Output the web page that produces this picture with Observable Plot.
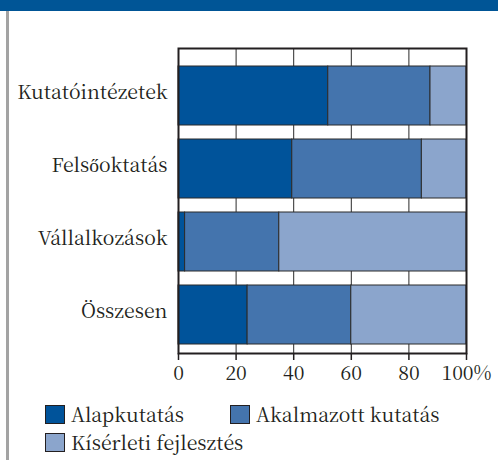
<!DOCTYPE html>
<html><head><meta charset="utf-8">
<script src="https://cdn.jsdelivr.net/npm/d3@7"></script>
<script src="https://cdn.jsdelivr.net/npm/@observablehq/plot@0.6"></script>
<style>
body{margin:0;background:#fff;width:498px;height:460px;overflow:hidden;position:relative;font-family:'Noto Serif CJK SC','Liberation Serif',serif;}
#band{position:absolute;left:0;top:0;width:498px;height:11px;background:#005596;z-index:2;}
#rule{position:absolute;left:6px;top:11px;width:3px;height:449px;background:#a3a3a3;z-index:2;}
#chart{position:absolute;left:0;top:0;}
#legend{position:absolute;left:45px;top:400px;display:grid;grid-template-columns:185px 230px;row-gap:0;}
.item{display:flex;align-items:center;height:28px;font-size:19.5px;color:#231f20;white-space:nowrap;}
.sw{width:18px;height:17px;border:1.5px solid #231f20;margin-right:6px;flex:none;}
</style>
</head><body>
<div id="band"></div>
<div id="rule"></div>
<div id="chart"></div>
<div id="legend"></div>
<script>
const categories = ["Kutatóintézetek", "Felsőoktatás", "Vállalkozások", "Összesen"];
const series = ["Alapkutatás", "Akalmazott kutatás", "Kísérleti fejlesztés"];
const alapkutatas = [52, 39.5, 2.3, 24];
const alkalmazott = [35.5, 45, 32.7, 36];
const kiserleti = [12.5, 15.5, 65, 40];
const colors = ["#00539a", "#4474ad", "#8ba5cc"];
const xTicks = [0, 20, 40, 60, 80, 100];
const FONT = "'Noto Serif CJK SC', 'Liberation Serif', serif";

const values = [alapkutatas, alkalmazott, kiserleti];
const data = [];
categories.forEach((c, i) => series.forEach((s, j) => data.push({cat: c, series: s, value: values[j][i]})));

const chart = Plot.plot({
  width: 498,
  height: 390,
  marginTop: 48,
  marginBottom: 37,
  marginLeft: 178,
  marginRight: 32,
  style: {fontFamily: FONT, fontSize: "19.5px", color: "#231f20", background: "transparent"},
  x: {domain: [0, 100], label: null},
  y: {domain: categories, range: [65, 345], paddingInner: 0.196, paddingOuter: 0, label: null},
  color: {domain: series, range: colors},
  marks: [
    Plot.gridX({ticks: [20, 40, 60, 80], stroke: "#2a2a2a", strokeOpacity: 1, strokeWidth: 1}),
    Plot.barX(data, Plot.stackX({x: "value", y: "cat", fill: "series", stroke: "#2a2a2a", strokeWidth: 1, order: series})),
    Plot.frame({stroke: "#231f20", strokeWidth: 2}),
    Plot.axisX({ticks: xTicks, tickSize: 7, tickPadding: 6, tickFormat: d => d === 100 ? "100%" : String(d), fontSize: 19.5, strokeWidth: 1.5}),
    Plot.axisY({tickSize: 0, tickPadding: 11, fontSize: 19.5, dy: -3})
  ]
});
chart.querySelectorAll("text").forEach(t => t.style.fontFamily = FONT);
document.getElementById("chart").appendChild(chart);

const legend = document.getElementById("legend");
series.forEach((s, j) => {
  const item = document.createElement("div");
  item.className = "item";
  item.style.fontFamily = FONT;
  const sw = document.createElement("span");
  sw.className = "sw";
  sw.style.background = colors[j];
  item.appendChild(sw);
  item.appendChild(document.createTextNode(s));
  legend.appendChild(item);
});
</script>
</body></html>
